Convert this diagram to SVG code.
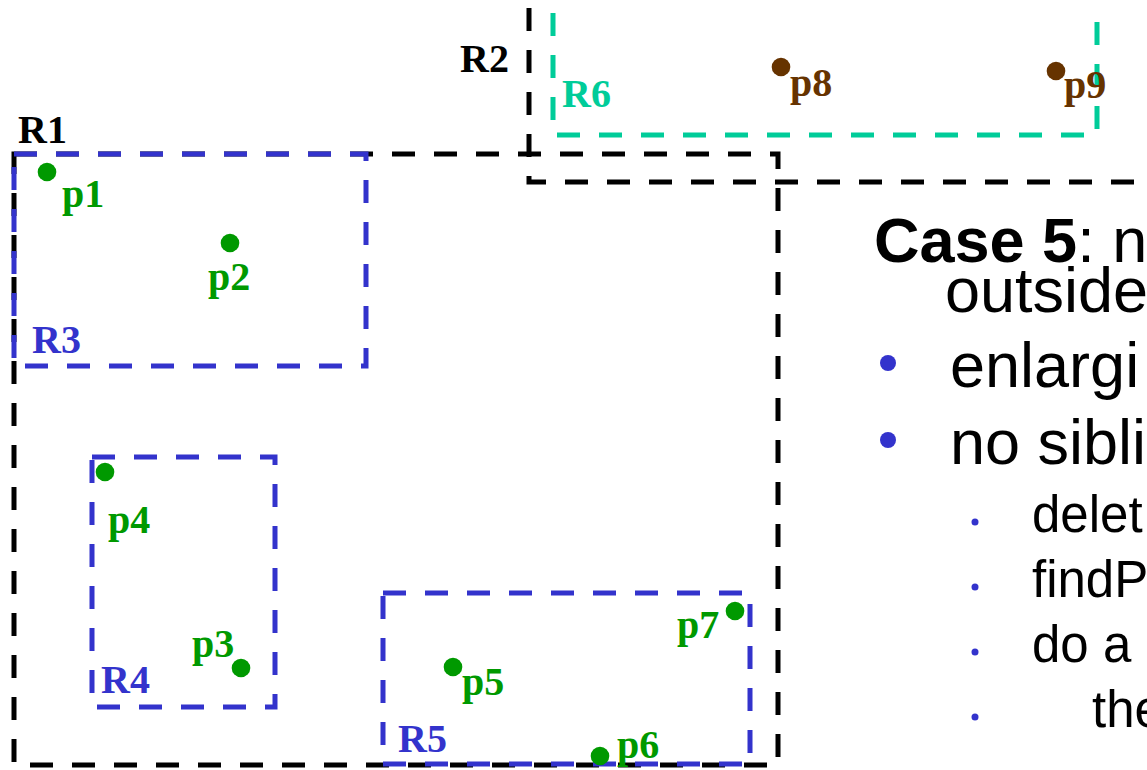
<svg xmlns="http://www.w3.org/2000/svg" width="1147" height="770" viewBox="0 0 1147 770">
<style>
.box{fill:none;stroke-width:5;stroke-dasharray:23 19}
.k{stroke:#000}
.b{stroke:#3333cc}
.t{stroke:#00cc99}
.lbl{font-family:"Liberation Serif","Times New Roman",serif;font-weight:bold;font-size:40px}
.cg{fill:#009900}
.cb{fill:#663300}
.cr{fill:#3333cc}
.ck{fill:#000}
.ct{fill:#00cc99}
.txt{font-family:"Liberation Sans",Arial,sans-serif;fill:#000}
.l1{font-size:63px}
.l2{font-size:51px}
</style>
<rect x="0" y="0" width="1147" height="770" fill="#fff"/>
<g id="R1">
  <path class="box k" d="M14,154 H778 V765 H14 Z"/>
  <text class="lbl ck" x="18" y="143">R1</text>
</g>
<g id="R2">
  <path class="box k" d="M529,8 V182 H1147"/>
  <text class="lbl ck" x="460" y="72">R2</text>
</g>
<g id="R3">
  <path class="box b" d="M14,154 H366 V366 H14 Z"/>
  <text class="lbl cr" x="32" y="353">R3</text>
</g>
<g id="R4">
  <path class="box b" d="M92,457 H275 V707 H92 Z"/>
  <text class="lbl cr" x="101" y="693">R4</text>
</g>
<g id="R5">
  <path class="box b" d="M383,593 H750 V764 H383 Z"/>
  <text class="lbl cr" x="398" y="752">R5</text>
</g>
<g id="R6">
  <path class="box t" d="M553,13 V135 H1093"/>
  <path class="box t" d="M1097,22 V135"/>
  <text class="lbl ct" x="562" y="107">R6</text>
</g>
<g id="p1"><circle class="cg" cx="47" cy="172" r="9.3"/><text class="lbl cg" x="62" y="207">p1</text></g>
<g id="p2"><circle class="cg" cx="230" cy="243" r="9.3"/><text class="lbl cg" x="208" y="290">p2</text></g>
<g id="p3"><circle class="cg" cx="241" cy="668" r="9.3"/><text class="lbl cg" x="192" y="657">p3</text></g>
<g id="p4"><circle class="cg" cx="105" cy="472" r="9.3"/><text class="lbl cg" x="108" y="533">p4</text></g>
<g id="p5"><circle class="cg" cx="453" cy="667" r="9.3"/><text class="lbl cg" x="462" y="695">p5</text></g>
<g id="p6"><circle class="cg" cx="600" cy="756" r="9.3"/><text class="lbl cg" x="617" y="758">p6</text></g>
<g id="p7"><circle class="cg" cx="735" cy="611" r="9.3"/><text class="lbl cg" x="677" y="638">p7</text></g>
<g id="p8"><circle class="cb" cx="781" cy="67" r="9.3"/><text class="lbl cb" x="790" y="96">p8</text></g>
<g id="p9"><circle class="cb" cx="1056" cy="71" r="9.3"/><text class="lbl cb" x="1064" y="98">p9</text></g>
<g id="caseText">
  <text class="txt l1" x="874" y="262"><tspan font-weight="bold">Case 5</tspan>: n</text>
  <text class="txt l1" x="945" y="312">outside</text>
  <circle class="cr" cx="888" cy="363" r="8"/>
  <text class="txt l1" x="950" y="387">enlargi</text>
  <circle class="cr" cx="888" cy="440" r="8"/>
  <text class="txt l1" x="950" y="464">no sibli</text>
  <circle class="cr" cx="975" cy="522" r="3.5"/>
  <text class="txt l2" x="1032" y="532">delet</text>
  <circle class="cr" cx="975" cy="587" r="3.5"/>
  <text class="txt l2" x="1032" y="597">findP</text>
  <circle class="cr" cx="975" cy="652" r="3.5"/>
  <text class="txt l2" x="1032" y="662">do a</text>
  <circle class="cr" cx="975" cy="717" r="3.5"/>
  <text class="txt l2" x="1092" y="727">the</text>
</g>
</svg>
